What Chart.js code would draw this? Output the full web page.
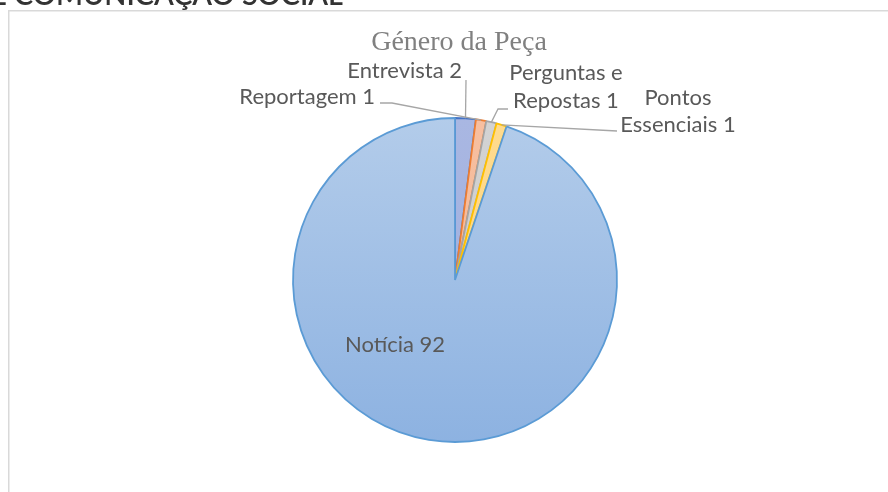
<!DOCTYPE html>
<html><head><meta charset="utf-8">
<script src="https://cdn.jsdelivr.net/npm/chart.js@4.4.0/dist/chart.umd.min.js"></script>
<style>html,body{margin:0;padding:0;background:#fff;overflow:hidden}canvas{display:block}</style>
</head><body>
<canvas id="c" width="888" height="492"></canvas>
<script>
// ---- data ----
const categories = ['Entrevista', 'Reportagem', 'Perguntas e Repostas', 'Pontos Essenciais', 'Notícia'];
const values = [2, 1, 1, 1, 92];
const chartTitle = 'Género da Peça';
const headerText = 'DE COMUNICAÇÃO SOCIAL';

// ---- styles ----
const fillTop = ['#A9B7E2', '#F7BFA0', '#D3D3D3', '#FFDB8E', '#B3CCEA'];
const fillBottom = ['#9DADDD', '#F4B490', '#C8C8C8', '#FFD47C', '#8DB2E1'];
const borders = ['#4472C4', '#ED7D31', '#A5A5A5', '#FFC000', '#5B9BD5'];

// label placement (text comes from categories + values)
const labelLayout = [
  {align: 'right', x: 462, ys: [78], wordsFirstLine: 0, leader: [[466, 80]]},
  {align: 'right', x: 375, ys: [104], wordsFirstLine: 0, leader: [[380, 103], [392, 103]]},
  {align: 'center', x: 566, ys: [80, 108], wordsFirstLine: 2, leader: [[508, 109], [498, 109]]},
  {align: 'center', x: 678, ys: [105, 132], wordsFirstLine: 1, leader: [[617, 131]]},
  {align: 'center', x: 395, ys: [352], wordsFirstLine: 0, leader: null}
];

const R = 162;

function sliceFill(ctx) {
  const i = ctx.dataIndex;
  const chart = ctx.chart;
  const ca = chart.chartArea;
  if (!ca) return fillTop[i];
  const cy = (ca.top + ca.bottom) / 2;
  const g = chart.ctx.createLinearGradient(0, cy - R, 0, cy + R);
  g.addColorStop(0, fillTop[i]);
  g.addColorStop(1, fillBottom[i]);
  return g;
}

const decor = {
  id: 'decor',
  beforeDraw(chart) {
    const c = chart.ctx;
    c.save();
    c.fillStyle = '#fff';
    c.fillRect(0, 0, chart.width, chart.height);
    // frame
    c.strokeStyle = '#D9D9D9';
    c.lineWidth = 1.5;
    c.strokeRect(8.75, 10.75, 2000, 2000);
    // cut header text
    c.font = '600 28px Lato';
    c.fillStyle = '#333333';
    c.textBaseline = 'alphabetic';
    const mainPart = 'COMUNICAÇÃO SOCIAL';
    const w = c.measureText(mainPart).width;
    const sx = 329 / w;
    c.translate(343, 0);
    c.scale(sx, 1);
    c.textAlign = 'right';
    c.fillText(headerText, 0, 5);
    c.restore();
  },
  afterDraw(chart) {
    const c = chart.ctx;
    const meta = chart.getDatasetMeta(0);
    c.save();
    // title
    c.font = '28px "Liberation Serif"';
    c.fillStyle = '#808080';
    c.textAlign = 'center';
    c.textBaseline = 'alphabetic';
    c.fillText(chartTitle, 459, 50);
    // leaders
    c.strokeStyle = '#A6A6A6';
    c.lineWidth = 1.3;
    labelLayout.forEach((L, i) => {
      if (!L.leader) return;
      const arc = meta.data[i];
      const mid = (arc.startAngle + arc.endAngle) / 2;
      const ex = arc.x + Math.cos(mid) * arc.outerRadius;
      const ey = arc.y + Math.sin(mid) * arc.outerRadius;
      c.beginPath();
      c.moveTo(L.leader[0][0], L.leader[0][1]);
      for (let k = 1; k < L.leader.length; k++) c.lineTo(L.leader[k][0], L.leader[k][1]);
      c.lineTo(ex, ey);
      c.stroke();
    });
    // labels
    c.font = '22px Lato';
    c.fillStyle = '#595959';
    labelLayout.forEach((L, i) => {
      const text = categories[i] + ' ' + values[i];
      let lines = [text];
      if (L.wordsFirstLine > 0) {
        const words = text.split(' ');
        lines = [words.slice(0, L.wordsFirstLine).join(' '), words.slice(L.wordsFirstLine).join(' ')];
      }
      c.textAlign = L.align;
      lines.forEach((ln, k) => c.fillText(ln, L.x, L.ys[k]));
    });
    c.restore();
  }
};

new Chart(document.getElementById('c'), {
  type: 'pie',
  data: {
    labels: categories,
    datasets: [{
      data: values,
      backgroundColor: sliceFill,
      borderColor: borders,
      borderWidth: 1.8,
      radius: R
    }]
  },
  options: {
    responsive: false,
    animation: false,
    devicePixelRatio: 1,
    layout: {padding: {left: 22, right: 0, top: 68, bottom: 0}},
    plugins: {legend: {display: false}, tooltip: {enabled: false}, title: {display: false}}
  },
  plugins: [decor]
});
</script>
</body></html>
